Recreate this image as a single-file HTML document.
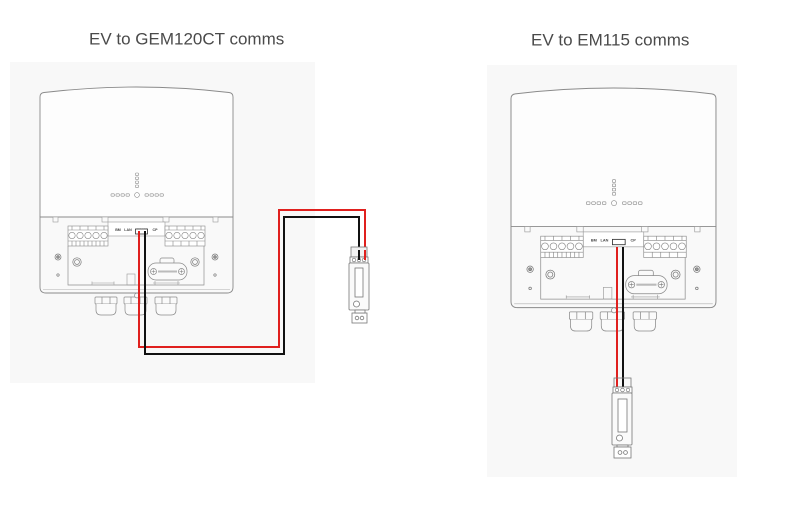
<!DOCTYPE html>
<html>
<head>
<meta charset="utf-8">
<style>
  html,body{margin:0;padding:0;background:#fff;}
  svg{display:block;}
  .t{font-family:"Liberation Sans",sans-serif;font-size:17px;fill:#4a4a4a;}
  .lab{font-family:"Liberation Sans",sans-serif;font-size:3.6px;font-weight:bold;fill:#444;text-anchor:middle;}
</style>
</head>
<body>
<svg width="789" height="527" viewBox="0 0 789 527" xmlns="http://www.w3.org/2000/svg">
  <defs>
    <g id="house">
      <path d="M40,217 V97 Q40,93 44,92.5 Q136.5,81.5 229,92.5 Q233,93 233,97 V217" fill="#fdfdfd" stroke="#8a8a8a" stroke-width="0.9"/>
      <path d="M40,217 H233 V287 Q233,293 227,293 H46 Q40,293 40,287 Z" fill="#f9f9f9" stroke="#8a8a8a" stroke-width="0.9"/>
      <line x1="43" y1="289.5" x2="230" y2="289.5" stroke="#b0b0b0" stroke-width="0.6"/>
      <g fill="#fafafa" stroke="#999" stroke-width="0.6">
        <rect x="53" y="217" width="5" height="5"/>
        <rect x="102" y="217" width="6" height="5"/>
        <rect x="163" y="217" width="6" height="5"/>
        <rect x="213" y="217" width="5" height="5"/>
      </g>
      <rect x="108" y="222" width="57" height="14" fill="#fff" stroke="#999" stroke-width="0.6"/>
      <text class="lab" x="118" y="231">BM</text>
      <text class="lab" x="128" y="231">LAN</text>
      <text class="lab" x="142" y="231">RS485</text>
      <text class="lab" x="155" y="231">CP</text>
      <path d="M68,246 V285 H204 V246" fill="none" stroke="#8f8f8f" stroke-width="0.7"/>
      <g stroke="#888" stroke-width="0.6" fill="#fff">
        <rect x="68" y="226" width="40" height="20"/>
        <line x1="68" y1="230" x2="108" y2="230"/>
        <line x1="68" y1="241" x2="108" y2="241"/>
        <circle cx="72" cy="235.5" r="3.2"/>
        <circle cx="80" cy="235.5" r="3.2"/>
        <circle cx="88" cy="235.5" r="3.2"/>
        <circle cx="96" cy="235.5" r="3.2"/>
        <circle cx="104" cy="235.5" r="3.2"/>
        <path d="M72,241 V246 M76,241 V246 M80,241 V246 M84,241 V246 M88,241 V246 M92,241 V246 M96,241 V246 M100,241 V246 M104,241 V246" fill="none"/>
        <path d="M72,226 V230 M80,226 V230 M88,226 V230 M96,226 V230 M104,226 V230" fill="none"/>
      </g>
      <g stroke="#888" stroke-width="0.6" fill="#fff">
        <rect x="165" y="226" width="40" height="20"/>
        <line x1="165" y1="230" x2="205" y2="230"/>
        <line x1="165" y1="241" x2="205" y2="241"/>
        <circle cx="169" cy="235.5" r="3.2"/>
        <circle cx="177" cy="235.5" r="3.2"/>
        <circle cx="185" cy="235.5" r="3.2"/>
        <circle cx="193" cy="235.5" r="3.2"/>
        <circle cx="201" cy="235.5" r="3.2"/>
        <path d="M173,241 V246 M181,241 V246 M189,241 V246 M197,241 V246" fill="none"/>
        <path d="M169,226 V230 M177,226 V230 M185,226 V230 M193,226 V230 M201,226 V230" fill="none"/>
      </g>
      <g fill="none" stroke="#777" stroke-width="0.7">
        <circle cx="58" cy="257" r="3"/>
        <circle cx="58" cy="257" r="1.4" fill="#999"/>
        <circle cx="215" cy="257" r="3"/>
        <circle cx="215" cy="257" r="1.4" fill="#999"/>
        <circle cx="58" cy="275" r="1.2"/>
        <circle cx="215" cy="275" r="1.2"/>
        <circle cx="77" cy="262" r="4.2"/>
        <circle cx="77" cy="262" r="2.4"/>
        <circle cx="195" cy="262" r="4.2"/>
        <circle cx="195" cy="262" r="2.4"/>
      </g>
      <g fill="#fafafa" stroke="#888" stroke-width="0.7">
        <rect x="160" y="258" width="14" height="6" rx="2"/>
        <rect x="148" y="263" width="39" height="17" rx="8"/>
        <circle cx="153.5" cy="271.5" r="3"/>
        <circle cx="181.5" cy="271.5" r="3"/>
        <rect x="158" y="270.5" width="19" height="2" fill="#bbb" stroke="none"/>
      </g>
      <path d="M153.5,269.5 v4 M151.5,271.5 h4 M181.5,269.5 v4 M179.5,271.5 h4" stroke="#777" stroke-width="0.5"/>
      <g fill="none" stroke="#999" stroke-width="0.6">
        <rect x="127" y="274" width="8" height="11"/>
        <path d="M92,283 H114 M92,281.5 v3 M114,281.5 v3"/>
        <path d="M153,283 H180 M155,281 v4 M178,281 v4"/>
      </g>
      <g fill="none" stroke="#8a8a8a" stroke-width="0.6">
        <rect x="135.5" y="173" width="3" height="2.6" rx="0.6"/>
        <rect x="135.5" y="177" width="3" height="2.6" rx="0.6"/>
        <rect x="135.5" y="181" width="3" height="2.6" rx="0.6"/>
        <rect x="135.5" y="185" width="3" height="2.6" rx="0.6"/>
        <circle cx="137" cy="195" r="2.4"/>
        <rect x="111" y="193.8" width="3.4" height="2.4" rx="0.6"/>
        <rect x="116" y="193.8" width="3.4" height="2.4" rx="0.6"/>
        <rect x="121" y="193.8" width="3.4" height="2.4" rx="0.6"/>
        <rect x="126" y="193.8" width="3.4" height="2.4" rx="0.6"/>
        <rect x="145" y="193.8" width="3.4" height="2.4" rx="0.6"/>
        <rect x="150" y="193.8" width="3.4" height="2.4" rx="0.6"/>
        <rect x="155" y="193.8" width="3.4" height="2.4" rx="0.6"/>
        <rect x="160" y="193.8" width="3.4" height="2.4" rx="0.6"/>
      </g>
      <g fill="#fafafa" stroke="#8a8a8a" stroke-width="0.7">
        <rect x="95" y="297" width="22" height="7" rx="1"/>
        <path d="M96,304 V310 Q96,315 101,315 H111 Q116,315 116,310 V304"/>
        <rect x="124" y="297" width="23" height="7" rx="1"/>
        <path d="M125,304 V310 Q125,315 130,315 H141 Q146,315 146,310 V304"/>
        <rect x="155" y="297" width="22" height="7" rx="1"/>
        <path d="M156,304 V310 Q156,315 161,315 H171 Q176,315 176,310 V304"/>
        <path d="M102,297 V304 M110,297 V304 M131,297 V304 M140,297 V304 M162,297 V304 M170,297 V304" fill="none"/>
        <circle cx="137" cy="295.5" r="2.4"/>
      </g>
    </g>
  </defs>

  <text class="t" x="89" y="44.5">EV to GEM120CT comms</text>
  <text class="t" x="531" y="45.5">EV to EM115 comms</text>

  <!-- LEFT PANEL -->
  <rect x="10" y="62" width="305" height="321" fill="#f8f8f8"/>
  <use href="#house"/>
  <rect x="135.5" y="229" width="12" height="5" fill="#fff" stroke="#333" stroke-width="0.8"/>
  <path d="M139,231 V347 H279 V210 H365 V260" fill="none" stroke="#e0201e" stroke-width="2"/>
  <path d="M145,231 V354 H284 V217 H359 V260" fill="none" stroke="#111" stroke-width="2"/>
  <g stroke="#777" stroke-width="0.8" fill="#fafafa">
    <rect x="351" y="247" width="16" height="10" fill="#f2f2f2"/>
    <rect x="350" y="257" width="18" height="6" fill="#fff"/>
    <rect x="349" y="263" width="20" height="47" rx="1"/>
    <rect x="355" y="268" width="8" height="29" fill="#fff"/>
    <circle cx="356.5" cy="304" r="3" fill="#fff"/>
    <rect x="352" y="313" width="15" height="10" fill="#fff"/>
    <rect x="355" y="310" width="10" height="3" fill="#fff"/>
    <circle cx="357" cy="318" r="1.8" fill="#fff"/>
    <circle cx="362" cy="318" r="1.8" fill="#fff"/>
  </g>
  <g stroke="#666" stroke-width="0.6" fill="#fff">
    <circle cx="354" cy="260" r="1.8"/>
    <circle cx="359" cy="260" r="1.8"/>
    <circle cx="364" cy="260" r="1.8"/>
  </g>
  <path d="M365,250 V260" stroke="#e0201e" stroke-width="2"/>
  <path d="M359,250 V260" stroke="#111" stroke-width="2"/>

  <!-- RIGHT PANEL -->
  <rect x="487" y="65" width="250" height="412" fill="#f8f8f8"/>
  <g transform="translate(511,88) scale(1.062,1.066) translate(-40,-87)">
    <use href="#house"/>
    <rect x="135.5" y="229" width="12" height="5" fill="#fff" stroke="#333" stroke-width="0.8"/>
  </g>
  <path d="M617,247 V388" fill="none" stroke="#e0201e" stroke-width="2"/>
  <path d="M623,247 V388" fill="none" stroke="#111" stroke-width="2"/>
  <g stroke="#777" stroke-width="0.8" fill="#fafafa">
    <rect x="614" y="378" width="17" height="9" fill="none"/>
    <rect x="613" y="387" width="19" height="6" fill="#fff"/>
    <rect x="612" y="393" width="20" height="52" rx="1"/>
    <rect x="618" y="399" width="9" height="33" fill="#fff"/>
    <circle cx="619.5" cy="438" r="3" fill="#fff"/>
    <rect x="617" y="445" width="11" height="2" fill="#fff"/>
    <rect x="614" y="447" width="17" height="11" fill="#fff"/>
    <circle cx="620" cy="452.5" r="1.9" fill="#fff"/>
    <circle cx="625.5" cy="452.5" r="1.9" fill="#fff"/>
  </g>
  <g stroke="#666" stroke-width="0.6" fill="#fff">
    <circle cx="617" cy="390" r="1.8"/>
    <circle cx="622.5" cy="390" r="1.8"/>
    <circle cx="628" cy="390" r="1.8"/>
  </g>
</svg>
</body>
</html>
